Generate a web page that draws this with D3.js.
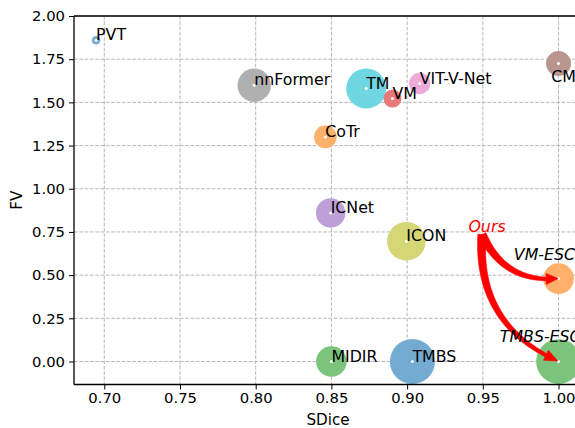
<!DOCTYPE html>
<html>
<head>
<meta charset="utf-8">
<script src="https://cdn.jsdelivr.net/npm/d3@7"></script>
<style>
html,body{margin:0;padding:0;background:#fff;}
svg{display:block;font-family:"DejaVu Sans",sans-serif;}
</style>
</head>
<body>
<svg id="chart" width="575" height="428"></svg>
<script>
// ---- data ----
const methods = ["PVT","nnFormer","TM","VM","VIT-V-Net","CM","CoTr","ICNet","ICON","MIDIR","TMBS","VM-ESC","TMBS-ESC"];
const sdice   = [0.6946,0.799,0.873,0.8903,0.9083,1.0,0.8460,0.8495,0.8995,0.850,0.9035,1.0,1.0];
const fv      = [1.859,1.599,1.580,1.522,1.609,1.725,1.300,0.860,0.696,0.000,0.000,0.480,0.000];
const sizes   = [18,279,400,81,114,156,128,216,372,234,506,234,500];
const colorNames = ["blue","gray","cyan","red","pink","brown","orange","purple","olive","green","blue","orange","green"];
const showLabel = [true,true,true,true,true,true,true,true,true,true,true,false,false];
const xTicks = [0.70,0.75,0.80,0.85,0.90,0.95,1.00];
const yTicks = [0.00,0.25,0.50,0.75,1.00,1.25,1.50,1.75,2.00];
// annotations (data coords)
const oursText = {text:"Ours", x:0.9405, y:0.75};
const escLabels = [{text:"VM-ESC", x:0.9705, y:0.585},{text:"TMBS-ESC", x:0.9612, y:0.112}];
const arrowFrom = [0.9495, 0.735];
const arrowTo = [[0.9998,0.480],[0.9995,0.003]];
const cmLabelPos = [0.9952, 1.618];

const tab10 = {blue:"#1f77b4",orange:"#ff7f0e",green:"#2ca02c",red:"#d62728",purple:"#9467bd",
  brown:"#8c564b",pink:"#e377c2",gray:"#7f7f7f",olive:"#bcbd22",cyan:"#17becf"};

const svg = d3.select("#chart");
const L = 74, T = 16, B = 384.5, R = 582;
const x = d3.scaleLinear().domain([0.68, 1.0155]).range([L, R]);
const y = d3.scaleLinear().domain([-0.133, 2.0]).range([B, T]);
const r = d3.scaleSqrt().domain([0, 506]).range([0, 22.5]);

svg.append("clipPath").attr("id","clip").append("rect")
  .attr("x",L).attr("y",T).attr("width",R-L).attr("height",B-T);

// grid
const grid = svg.append("g");
grid.selectAll(".vg").data(xTicks).join("line")
  .attr("x1",d=>x(d)).attr("x2",d=>x(d)).attr("y1",T).attr("y2",B)
  .attr("stroke","#b0b0b0").attr("stroke-width",0.9).attr("stroke-dasharray","3.7,1.6");
grid.selectAll(".hg").data(yTicks).join("line")
  .attr("y1",d=>y(d)).attr("y2",d=>y(d)).attr("x1",L).attr("x2",R)
  .attr("stroke","#b0b0b0").attr("stroke-width",0.9).attr("stroke-dasharray","3.7,1.6");

// bubbles
const pts = methods.map((m,i)=>({m, x:sdice[i], y:fv[i], s:sizes[i], c:colorNames[i], lab:showLabel[i]}));
const gp = svg.append("g").attr("clip-path","url(#clip)");
gp.selectAll("circle.b").data(pts).join("circle").attr("class","b")
  .attr("cx",d=>x(d.x)).attr("cy",d=>y(d.y)).attr("r",d=>r(d.s))
  .attr("fill",d=>d3.interpolateRgb("#ffffff",tab10[d.c])(0.62));
gp.selectAll("circle.w").data(pts).join("circle").attr("class","w")
  .attr("cx",d=>x(d.x)).attr("cy",d=>y(d.y)).attr("r",1.5).attr("fill","#fff");

// labels
svg.append("g").selectAll("text").data(pts.filter(d=>d.lab)).join("text")
  .attr("x",d=> d.m==="CM" ? x(cmLabelPos[0]) : x(d.x))
  .attr("y",d=> d.m==="CM" ? y(cmLabelPos[1]) : y(d.y))
  .attr("font-size",15.8).attr("fill","#000").text(d=>d.m);

// tapered curved arrows (fancy style)
const rad = 0.35, tailW0 = 8.5, tailW1 = 3.5, headW = 11, headL = 12;
const ga = svg.append("g");
arrowTo.forEach(t=>{
  const x1=x(arrowFrom[0]), y1=y(arrowFrom[1]), x2=x(t[0]), y2=y(t[1]);
  const mx=(x1+x2)/2, my=(y1+y2)/2, dx=x2-x1, dy=y2-y1;
  const cx = mx - rad*dy, cy = my + rad*dx;
  const N = 120, P = [];
  for(let i=0;i<=N;i++){
    const u=i/N, a=(1-u)*(1-u), b=2*u*(1-u), c=u*u;
    P.push([a*x1+b*cx+c*x2, a*y1+b*cy+c*y2]);
  }
  const cum=[0];
  for(let i=1;i<=N;i++) cum.push(cum[i-1]+Math.hypot(P[i][0]-P[i-1][0],P[i][1]-P[i-1][1]));
  const total=cum[N], tailLen=total-headL;
  const left=[], right=[];
  let k=0;
  for(let i=0;i<=N && cum[i]<=tailLen;i++){
    k=i;
    const i0=Math.max(0,i-1), i1=Math.min(N,i+1);
    let tx=P[i1][0]-P[i0][0], ty=P[i1][1]-P[i0][1]; const n=Math.hypot(tx,ty); tx/=n; ty/=n;
    const w=tailW0+(tailW1-tailW0)*(cum[i]/tailLen);
    left.push([P[i][0]-ty*w/2, P[i][1]+tx*w/2]);
    right.push([P[i][0]+ty*w/2, P[i][1]-tx*w/2]);
  }
  const hb=P[k];
  let tx=x2-hb[0], ty=y2-hb[1]; const n=Math.hypot(tx,ty); tx/=n; ty/=n;
  const hl=[hb[0]-ty*headW/2, hb[1]+tx*headW/2], hr=[hb[0]+ty*headW/2, hb[1]-tx*headW/2];
  const poly=[...left, hl, [x2,y2], hr, ...right.reverse()];
  ga.append("path").attr("d","M"+poly.map(p=>p[0].toFixed(2)+","+p[1].toFixed(2)).join("L")+"Z")
    .attr("fill","#ff0000").attr("stroke","#ff0000").attr("stroke-width",0.6).attr("stroke-linejoin","round");
});

// annotation texts
svg.append("text").attr("x",x(oursText.x)).attr("y",y(oursText.y))
  .attr("font-size",15.8).attr("font-style","italic").attr("fill","#ff0000").text(oursText.text);
svg.append("g").selectAll("text").data(escLabels).join("text")
  .attr("x",d=>x(d.x)).attr("y",d=>y(d.y))
  .attr("font-size",15.8).attr("font-style","italic").attr("fill","#000").text(d=>d.text);

// axes
const ax = svg.append("g").attr("transform",`translate(0,${B})`)
  .call(d3.axisBottom(x).tickValues(xTicks).tickFormat(d3.format(".2f")).tickSize(5).tickSizeOuter(0));
const ay = svg.append("g").attr("transform",`translate(${L},0)`)
  .call(d3.axisLeft(y).tickValues(yTicks).tickFormat(d3.format(".2f")).tickSize(5).tickSizeOuter(0));
[ax,ay].forEach(a=>{
  a.selectAll("text").attr("font-size",14.8).attr("font-family","DejaVu Sans").attr("fill","#000");
  a.selectAll("line").attr("stroke","#000").attr("stroke-width",1);
  a.select(".domain").attr("stroke","#000").attr("stroke-width",1.3);
});
ax.selectAll("text").attr("y",8);
ay.selectAll("text").attr("x",-9);
svg.append("line").attr("x1",L).attr("x2",R).attr("y1",T).attr("y2",T).attr("stroke","#000").attr("stroke-width",1.3);
ay.select(".domain").attr("d",`M0,${T}V${B}`);
ax.select(".domain").attr("d",`M${L},0H${R}`);

// axis titles
svg.append("text").attr("x",(L+R)/2).attr("y",425).attr("text-anchor","middle")
  .attr("font-size",15.2).text("SDice");
svg.append("text").attr("transform",`translate(22,${(T+B)/2}) rotate(-90)`).attr("text-anchor","middle")
  .attr("font-size",15.2).text("FV");
</script>
</body>
</html>
